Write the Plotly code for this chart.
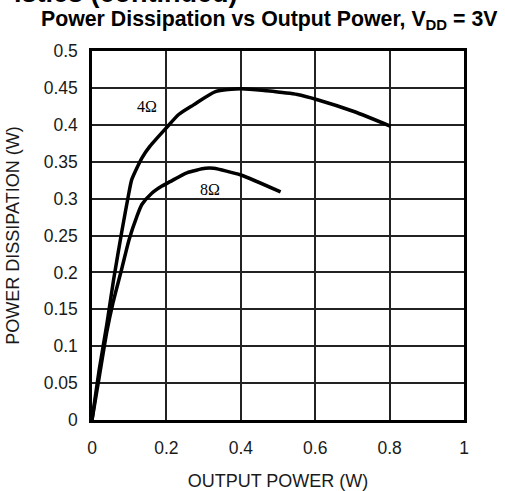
import plotly.graph_objects as go

x_4ohm = [0, 0.02, 0.04, 0.058, 0.08, 0.1, 0.107, 0.134, 0.156, 0.2, 0.233, 0.273, 0.332, 0.4, 0.47, 0.552, 0.606, 0.704, 0.803]
y_4ohm = [0, 0.07, 0.13, 0.19, 0.255, 0.31, 0.326, 0.355, 0.371, 0.396, 0.414, 0.427, 0.445, 0.449, 0.446, 0.441, 0.434, 0.418, 0.398]

x_8ohm = [0, 0.02, 0.04, 0.057, 0.08, 0.1, 0.12, 0.134, 0.16, 0.188, 0.21, 0.255, 0.305, 0.327, 0.4, 0.507]
y_8ohm = [0, 0.06, 0.12, 0.16, 0.205, 0.245, 0.275, 0.292, 0.307, 0.317, 0.323, 0.335, 0.341, 0.341, 0.332, 0.309]

x_ticks = [0, 0.2, 0.4, 0.6, 0.8, 1]
x_ticktext = ["0", "0.2", "0.4", "0.6", "0.8", "1"]
y_ticks = [0, 0.05, 0.1, 0.15, 0.2, 0.25, 0.3, 0.35, 0.4, 0.45, 0.5]
y_ticktext = ["0", "0.05", "0.1", "0.15", "0.2", "0.25", "0.3", "0.35", "0.4", "0.45", "0.5"]

labels = ["4Ω", "8Ω"]
label_x = [0.147, 0.318]
label_y = [0.425, 0.312]

title_text = "<b>Power Dissipation vs Output Power, V<sub>DD</sub> = 3V</b>"
header_text = "<b>istics (continued)</b>"

fig = go.Figure()
for xs, ys in ((x_4ohm, y_4ohm), (x_8ohm, y_8ohm)):
    fig.add_trace(go.Scatter(x=xs, y=ys, mode="lines",
                             line=dict(color="black", width=3.5, shape="spline", smoothing=0.6),
                             showlegend=False, hoverinfo="skip"))

annotations = []
for t, lx, ly in zip(labels, label_x, label_y):
    annotations.append(dict(x=lx, y=ly, text=t, showarrow=False, xref="x", yref="y",
                            font=dict(family="Liberation Serif", size=16, color="black")))

annotations.append(dict(xref="paper", yref="paper", x=-0.142, y=1.0, xanchor="left", yanchor="middle",
                        yshift=31, text=title_text, showarrow=False,
                        font=dict(family="Liberation Sans", size=21.3, color="black")))
annotations.append(dict(xref="paper", yref="paper", x=0.398, y=1.0, xanchor="right", yanchor="middle",
                        yshift=58, text=header_text, showarrow=False,
                        font=dict(family="Liberation Sans", size=27, color="black")))

fig.update_layout(
    width=505, height=491,
    margin=dict(l=92, r=41, t=51, b=71),
    paper_bgcolor="white", plot_bgcolor="white",
    font=dict(family="Liberation Sans", size=17.5, color="#1a1a1a"),
    annotations=annotations,
    xaxis=dict(range=[0, 1], tickvals=x_ticks, ticktext=x_ticktext,
               showgrid=True, gridcolor="#222", gridwidth=1.5,
               showline=True, linecolor="black", linewidth=2.5, mirror=True,
               zeroline=False, ticks="", ticklabelstandoff=10, automargin=False,
               title=dict(text="OUTPUT POWER (W)", standoff=24, font=dict(size=18)),
               tickfont=dict(size=17.5)),
    yaxis=dict(range=[0, 0.5], tickvals=y_ticks, ticktext=y_ticktext,
               showgrid=True, gridcolor="#222", gridwidth=1.5,
               showline=True, linecolor="black", linewidth=2.5, mirror=True,
               zeroline=False, ticks="", ticklabelstandoff=8, automargin=False,
               title=dict(text="POWER DISSIPATION (W)", standoff=20, font=dict(size=18)),
               tickfont=dict(size=17.5)),
)

fig.write_html("out.html", config={"displayModeBar": False},
               post_script="document.body.style.margin='0px';")
